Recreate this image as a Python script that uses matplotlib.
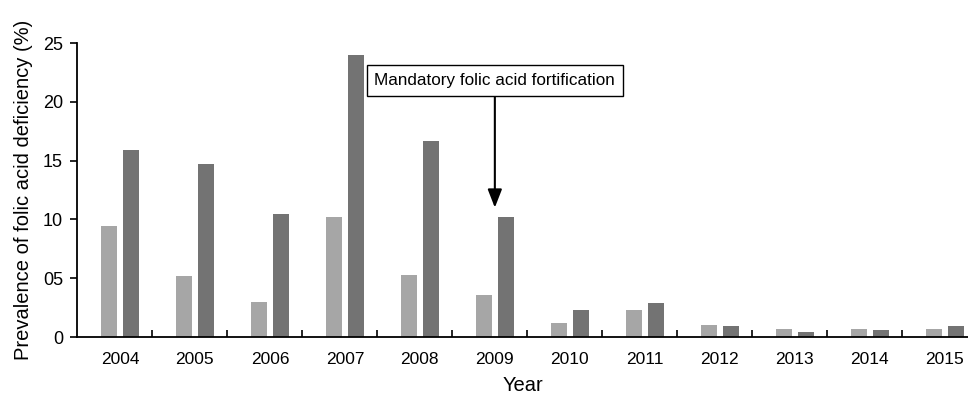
import matplotlib.pyplot as plt
import numpy as np

plt.rcParams['font.family'] = ['Liberation Sans', 'DejaVu Sans']

years = ['2004', '2005', '2006', '2007', '2008', '2009',
         '2010', '2011', '2012', '2013', '2014', '2015']
light = [9.4, 5.2, 3.0, 10.2, 5.25, 3.6, 1.2, 2.3, 1.0, 0.65, 0.65, 0.65]
dark = [15.9, 14.7, 10.5, 24.0, 16.7, 10.2, 2.3, 2.9, 0.9, 0.4, 0.57, 0.9]
ytick_vals = [0, 5, 10, 15, 20, 25]
ytick_labels = ['0', '05', '10', '15', '20', '25']

fig = plt.figure(figsize=(9.68, 4.0), dpi=100)
ax = fig.add_axes([0.0795, 0.1575, 0.9205, 0.735])

x = np.arange(len(years))
w = 0.213
ax.bar(x - 0.142, light, w, color='#a6a6a6')
ax.bar(x + 0.147, dark, w, color='#737373')

ax.set_xlim(-0.573, 11.31)
ax.set_ylim(0, 25)

# years as labels, tick marks sit between the groups
ax.set_xticks(x)
ax.set_xticklabels(years, fontsize=12.5)
ax.tick_params(axis='x', length=0, pad=11)
ax.set_xticks(x[:-1] + 0.427, minor=True)
ax.tick_params(axis='x', which='minor', direction='in', length=5, width=1.2)

ax.set_yticks(ytick_vals)
ax.set_yticklabels(ytick_labels, fontsize=13)
ax.tick_params(axis='y', direction='out', length=5, width=1.2, pad=5)

for s in ['top', 'right']:
    ax.spines[s].set_visible(False)
for s in ['left', 'bottom']:
    ax.spines[s].set_linewidth(1.3)

ax.set_xlabel('Year', fontsize=14.5, labelpad=6)
ax.set_ylabel('Prevalence of folic acid deficiency (%)', fontsize=14.5, labelpad=7)

ax.annotate('Mandatory folic acid fortification', xy=(5.0, 11.0), xytext=(5.0, 21.8),
            ha='center', va='center', fontsize=12.3,
            bbox=dict(boxstyle='square,pad=0.45', fc='white', ec='black', lw=1),
            arrowprops=dict(arrowstyle='-|>,head_width=0.35,head_length=0.9',
                            color='black', lw=1.5, shrinkA=0, shrinkB=0))

plt.savefig('out.png')
